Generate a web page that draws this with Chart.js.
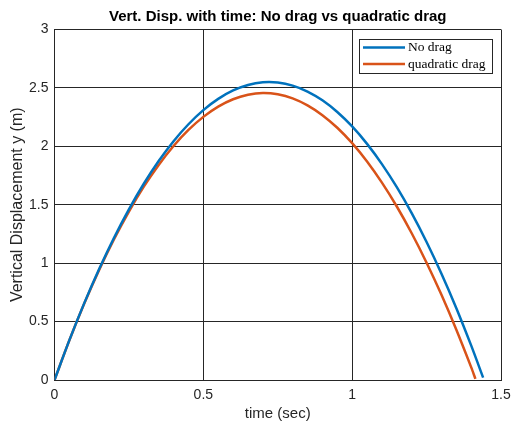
<!DOCTYPE html>
<html>
<head>
<meta charset="utf-8">
<script src="https://cdn.jsdelivr.net/npm/chart.js@4/dist/chart.umd.min.js"></script>
<style>
  html, body { margin: 0; padding: 0; background: #fff; }
  #wrap { width: 512px; height: 428px; }
</style>
</head>
<body>
<div id="wrap"><canvas id="grafico" width="512" height="428"></canvas></div>
<script>
// valores
const tiempoSinArrastre = [0, 0.05, 0.1, 0.15, 0.2, 0.25, 0.3, 0.35, 0.4, 0.45, 0.5, 0.55, 0.6, 0.65, 0.7,
  0.75, 0.8, 0.85, 0.9, 0.95, 1.0, 1.05, 1.1, 1.15, 1.2, 1.25, 1.3, 1.35, 1.4, 1.44];
const ySinArrastre = [0, 0.341, 0.658, 0.950, 1.218, 1.461, 1.680, 1.874, 2.044, 2.189, 2.310, 2.406, 2.478, 2.525, 2.548,
  2.546, 2.520, 2.469, 2.394, 2.294, 2.170, 2.021, 1.848, 1.650, 1.428, 1.181, 0.910, 0.615, 0.294, 0.02];

const tiempoCuadratico = [0, 0.05, 0.1, 0.15, 0.2, 0.25, 0.3, 0.35, 0.4, 0.45, 0.5, 0.55, 0.6, 0.65, 0.7,
  0.75, 0.8, 0.85, 0.9, 0.95, 1.0, 1.05, 1.1, 1.15, 1.2, 1.25, 1.3, 1.35, 1.4, 1.414];
const yCuadratico = [0, 0.340, 0.654, 0.942, 1.205, 1.442, 1.655, 1.841, 2.003, 2.140, 2.252, 2.340, 2.403, 2.441, 2.456,
  2.445, 2.411, 2.351, 2.267, 2.159, 2.027, 1.870, 1.689, 1.485, 1.256, 1.004, 0.729, 0.430, 0.108, 0.01];

const ticksX = [0, 0.5, 1, 1.5];
const ticksY = [0, 0.5, 1, 1.5, 2, 2.5, 3];

const etiquetas = ["No drag", "quadratic drag"];
const colores = ["#0072BD", "#D95319"];
const titulo = "Vert. Disp. with time: No drag vs quadratic drag";

const toPuntos = (xs, ys) => xs.map((x, i) => ({ x: x, y: ys[i] }));
const fuente = "'Liberation Sans', Arial, sans-serif";

// titulo centrado sobre el area de datos (como matlab)
const tituloMatlab = {
  id: "tituloMatlab",
  afterDraw(chart) {
    const c = chart.ctx;
    const a = chart.chartArea;
    c.save();
    c.font = "bold 15px " + fuente;
    c.fillStyle = "#000";
    c.textAlign = "center";
    c.textBaseline = "middle";
    c.fillText(titulo, (a.left + a.right) / 2, 17);
    c.restore();
  }
};

// leyenda dentro del area, estilo matlab
const leyendaMatlab = {
  id: "leyendaMatlab",
  afterDraw(chart) {
    const c = chart.ctx;
    const a = chart.chartArea;
    const x0 = Math.round(a.right) - 142, y0 = Math.round(a.top) + 9, w = 133, h = 34;
    c.save();
    c.fillStyle = "#fff";
    c.fillRect(x0, y0, w, h);
    c.strokeStyle = "#262626";
    c.lineWidth = 1;
    c.strokeRect(x0 + 0.5, y0 + 0.5, w, h);
    c.font = "13.5px 'Liberation Serif', 'DejaVu Serif', serif";
    c.textBaseline = "middle";
    chart.data.datasets.forEach((ds, i) => {
      const yy = y0 + 8.5 + i * 16.5;
      c.strokeStyle = ds.borderColor;
      c.lineWidth = 2.5;
      c.beginPath();
      c.moveTo(x0 + 4, yy);
      c.lineTo(x0 + 46, yy);
      c.stroke();
      c.fillStyle = "#000";
      c.fillText(ds.label, x0 + 49, yy);
    });
    c.restore();
  }
};

const ctx = document.getElementById("grafico").getContext("2d");
new Chart(ctx, {
  type: "line",
  data: {
    datasets: [
      {
        label: etiquetas[0],
        data: toPuntos(tiempoSinArrastre, ySinArrastre),
        borderColor: colores[0],
        borderWidth: 2.5,
        pointRadius: 0,
        tension: 0.3,
        fill: false
      },
      {
        label: etiquetas[1],
        data: toPuntos(tiempoCuadratico, yCuadratico),
        borderColor: colores[1],
        borderWidth: 2.5,
        pointRadius: 0,
        tension: 0.3,
        fill: false
      }
    ]
  },
  options: {
    responsive: false,
    animation: false,
    layout: { padding: { left: 0, right: 11, top: 29.5, bottom: 0 } },
    plugins: {
      legend: { display: false },
      tooltip: { enabled: false },
      title: { display: false }
    },
    scales: {
      x: {
        type: "linear",
        min: 0,
        max: 1.5,
        afterBuildTicks: (s) => { s.ticks = ticksX.map(v => ({ value: v })); },
        afterFit: (s) => { s.height = 48; s.paddingLeft = 0; s.paddingRight = 0; },
        grid: { color: "#262626", lineWidth: 1, drawTicks: false },
        border: { display: true, color: "#262626", width: 1 },
        ticks: {
          color: "#262626",
          padding: 7,
          font: { family: fuente, size: 14 },
          callback: (v) => String(v)
        },
        title: {
          display: true,
          text: "time (sec)",
          color: "#262626",
          padding: { top: 0, bottom: 5 },
          font: { family: fuente, size: 15 }
        }
      },
      y: {
        type: "linear",
        min: 0,
        max: 3,
        afterBuildTicks: (s) => { s.ticks = ticksY.map(v => ({ value: v })); },
        afterFit: (s) => { s.width = 54.5; s.paddingTop = 0; s.paddingBottom = 0; },
        grid: { color: "#262626", lineWidth: 1, drawTicks: false },
        border: { display: true, color: "#262626", width: 1 },
        ticks: {
          color: "#262626",
          padding: 6,
          font: { family: fuente, size: 14 },
          callback: (v) => String(v)
        },
        title: {
          display: true,
          text: "Vertical Displacement y (m)",
          color: "#262626",
          padding: { top: 8, bottom: 0 },
          font: { family: fuente, size: 16 }
        }
      }
    }
  },
  plugins: [tituloMatlab, leyendaMatlab]
});
</script>
</body>
</html>
